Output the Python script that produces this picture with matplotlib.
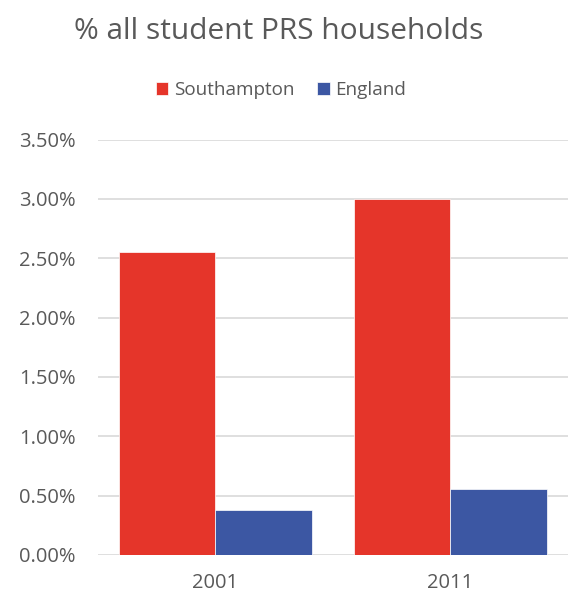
import matplotlib
matplotlib.use('Agg')
import matplotlib.pyplot as plt
import numpy as np
from matplotlib.ticker import FuncFormatter

years = ['2001', '2011']
southampton = [2.55, 3.00]
england = [0.38, 0.56]
yticks = [0.0, 0.5, 1.0, 1.5, 2.0, 2.5, 3.0, 3.5]

RED = '#E5352A'
BLUE = '#3C57A3'
TXT = '#595959'

plt.rcParams['font.family'] = ['Open Sans', 'DejaVu Sans']

fig = plt.figure(figsize=(5.68, 6.0), dpi=100)
ax = fig.add_axes([0.172, 0.075, 0.828, 0.6925])

x = np.arange(len(years))
w = 0.41
ax.bar(x - w / 2, southampton, w, color=RED, label='Southampton', zorder=3,
       edgecolor='white', linewidth=0.5)
ax.bar(x + w / 2, england, w, color=BLUE, label='England', zorder=3,
       edgecolor='white', linewidth=0.5)

ax.set_xlim(-0.5, 1.5)
ax.set_ylim(0, 3.5)
ax.set_yticks(yticks)
ax.yaxis.set_major_formatter(FuncFormatter(lambda v, p: f'{v:.2f}%'))
ax.set_xticks(x)
ax.set_xticklabels(years)
ax.grid(axis='y', color='#D9D9D9', linewidth=1.2, zorder=0)
for s in ax.spines.values():
    s.set_visible(False)
ax.tick_params(axis='both', length=0, labelsize=14.5, colors=TXT)
ax.tick_params(axis='y', pad=16)
ax.tick_params(axis='x', pad=13)

fig.text(0.49, 0.947, '% all student PRS households', ha='center', va='center',
         fontsize=21.5, color=TXT)
fig.legend(loc='center', bbox_to_anchor=(0.495, 0.85), ncol=2, frameon=False,
           fontsize=13.6, handlelength=0.65, handleheight=0.65, handletextpad=0.3,
           columnspacing=1.2, labelcolor=TXT)

fig.savefig('out.png', dpi=100)
